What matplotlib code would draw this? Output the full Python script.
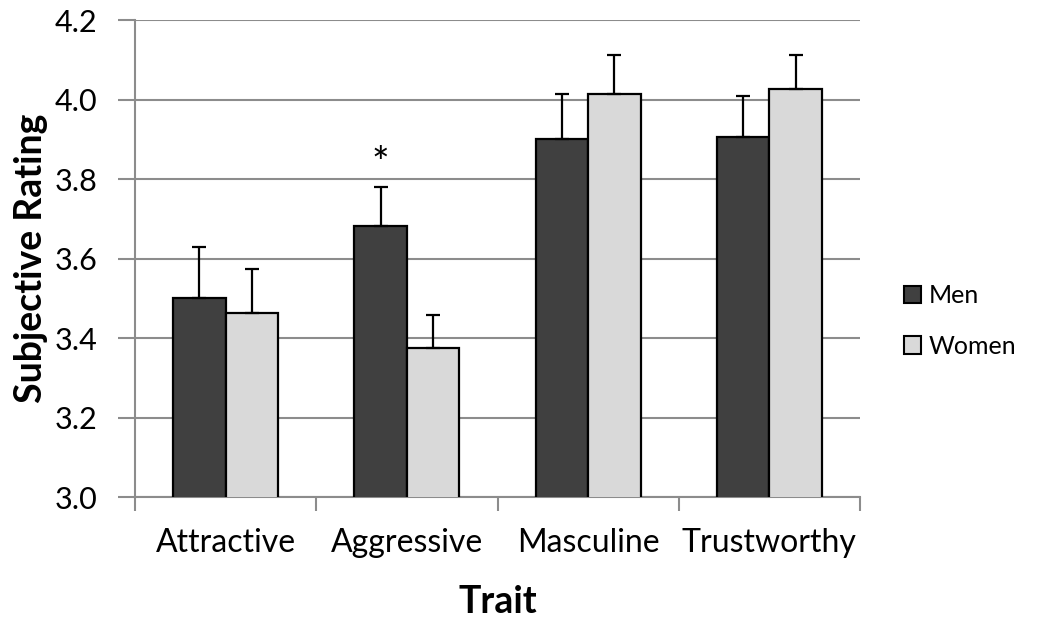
import numpy as np
import matplotlib.pyplot as plt
from matplotlib.patches import Patch

# # # data # # #
traits = ["Attractive", "Aggressive", "Masculine", "Trustworthy"]
men_mean = [3.50, 3.682, 3.90, 3.906]
men_err = [0.128, 0.098, 0.114, 0.102]
women_mean = [3.464, 3.376, 4.013, 4.026]
women_err = [0.109, 0.082, 0.099, 0.086]
y_ticks = [3.0, 3.2, 3.4, 3.6, 3.8, 4.0, 4.2]

plt.rcParams['font.family'] = ['Lato', 'DejaVu Sans']

MEN_COL = "#404040"
WOMEN_COL = "#d9d9d9"
GRID_COL = "#8c8c8c"

fig = plt.figure(figsize=(10.5, 6.24), dpi=100)
ax = fig.add_axes([135/1050, 127/624, 725/1050, 477/624])

x = np.arange(len(traits))
w = 0.29

ax.bar(x - w/2, men_mean, w, color=MEN_COL, edgecolor="black", linewidth=1.6, zorder=3, label="Men")
ax.bar(x + w/2, women_mean, w, color=WOMEN_COL, edgecolor="black", linewidth=1.6, zorder=3, label="Women")

# upward error bars only
ax.errorbar(x - w/2, men_mean, yerr=[np.zeros(4), men_err], fmt="none", ecolor="black",
	elinewidth=1.6, capsize=5, capthick=1.6, zorder=4)
ax.errorbar(x + w/2, women_mean, yerr=[np.zeros(4), women_err], fmt="none", ecolor="black",
	elinewidth=1.6, capsize=5, capthick=1.6, zorder=4)

# significance marker
ax.text(x[1] - w/2, 3.835, "*", ha="center", va="center", fontsize=30)

# axes
ax.set_ylim(3.0, 4.2)
ax.set_xlim(-0.5, 3.5)
ax.set_yticks(y_ticks)
ax.set_yticklabels(["%.1f" % v for v in y_ticks])
ax.yaxis.grid(True, color=GRID_COL, linewidth=1.5, zorder=0)
ax.set_axisbelow(True)

ax.set_xticks(x)
ax.set_xticklabels(traits)
ax.set_xticks(np.arange(-0.5, 4, 1), minor=True)
ax.tick_params(axis="x", which="major", length=0, pad=22, labelsize=23)
ax.tick_params(axis="x", which="minor", length=10, width=1.5, color=GRID_COL, direction="out")
ax.tick_params(axis="y", length=12, width=1.5, color=GRID_COL, pad=15, labelsize=22)

for s in ["top", "right"]:
	ax.spines[s].set_visible(False)
for s in ["left", "bottom"]:
	ax.spines[s].set_color(GRID_COL)
	ax.spines[s].set_linewidth(1.5)

ax.set_ylabel("Subjective Rating", fontsize=27, fontweight="bold", labelpad=5)
ax.set_xlabel("Trait", fontsize=27, fontweight="bold", labelpad=20)

# legend
handles = [Patch(facecolor=MEN_COL, edgecolor="black", linewidth=1.5),
	Patch(facecolor=WOMEN_COL, edgecolor="black", linewidth=1.5)]
fig.legend(handles=handles, labels=["Men", "Women"], loc="center left",
	bbox_to_anchor=(881/1050, 1 - 321/624), frameon=False, fontsize=18,
	handlelength=0.7, handleheight=0.7, handletextpad=0.3, labelspacing=1.1)

fig.savefig("out.png", dpi=100)
